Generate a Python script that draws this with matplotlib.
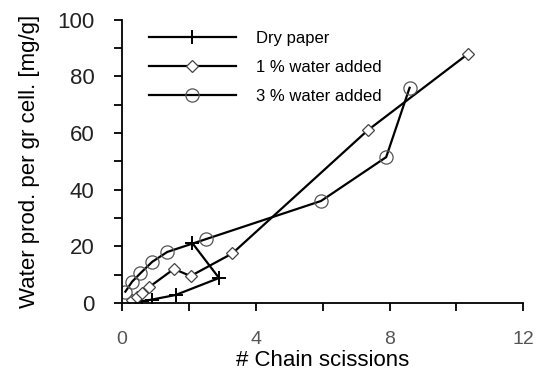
import numpy as np
import matplotlib.pyplot as plt
from matplotlib.ticker import MultipleLocator

plt.rcParams['font.family'] = ['Liberation Sans', 'DejaVu Sans']

# water production vs. number of chain scissions
dry_x = [0.4, 0.6, 0.9, 1.6, 2.9, 2.1]
dry_y = [0.3, 0.6, 1.2, 2.8, 8.8, 21.2]

w1_x = [0.3, 0.45, 0.6, 0.8, 1.55, 2.05, 3.3, 7.35, 10.35]
w1_y = [1.0, 2.0, 3.5, 5.5, 12.0, 9.5, 17.5, 61.0, 88.0]

w3_x = [0.1, 0.3, 0.55, 0.9, 1.35, 2.5, 5.95, 7.9, 8.6]
w3_y = [4.0, 7.5, 10.5, 14.5, 18.0, 22.5, 36.0, 51.5, 76.0]

fig = plt.figure(figsize=(5.4, 3.74), dpi=100)
ax = fig.add_axes([0.226, 0.19, 0.743, 0.757])

ax.plot(dry_x, dry_y, color='black', lw=1.6, marker='+', ms=10, mew=1.4,
        label='Dry paper')
ax.plot(w1_x, w1_y, color='black', lw=1.6, marker='D', ms=6.5, mew=0.9,
        mfc='white', mec='#444444', label='1 % water added')
ax.plot(w3_x, w3_y, color='black', lw=1.6, marker='o', ms=9.5, mew=0.9,
        mfc='none', mec='#555555', label='3 % water added')

ax.set_xlim(0, 12)
ax.set_ylim(0, 100)
ax.xaxis.set_major_locator(MultipleLocator(4))
ax.xaxis.set_minor_locator(MultipleLocator(2))
ax.yaxis.set_major_locator(MultipleLocator(20))
ax.yaxis.set_minor_locator(MultipleLocator(10))
for sp in ['top', 'right']:
    ax.spines[sp].set_visible(False)
for sp in ['left', 'bottom']:
    ax.spines[sp].set_linewidth(1.3)
ax.tick_params(which='both', direction='out', length=6, width=1.3)
ax.tick_params(axis='y', labelsize=16, pad=14, labelcolor='#222222')
ax.tick_params(axis='x', labelsize=14, pad=14, labelcolor='#555555')

ax.set_xlabel('# Chain scissions', fontsize=16, labelpad=2)
ax.set_ylabel('Water prod. per gr cell. [mg/g]', fontsize=16, labelpad=12)

ax.legend(loc='upper left', bbox_to_anchor=(0.03, 1.015), frameon=False,
          fontsize=12, handlelength=5.2, labelspacing=0.85, handletextpad=1.2)

plt.savefig('out.png', dpi=100)
